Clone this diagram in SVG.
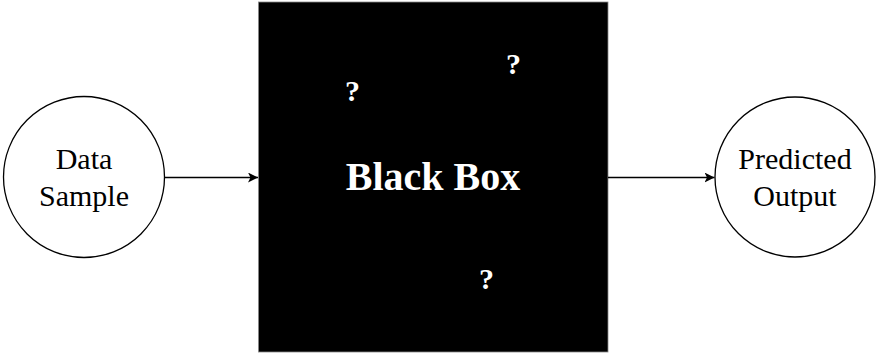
<svg xmlns="http://www.w3.org/2000/svg" width="878" height="354" viewBox="0 0 878 354">
<defs>
<marker id="arr" viewBox="0 0 10 10" refX="10" refY="5" markerWidth="10" markerHeight="10" markerUnits="userSpaceOnUse" orient="auto">
<path d="M0,0 L10,5 L0,10 L2.5,5 Z" fill="#000"/>
</marker>
</defs>
<rect width="878" height="354" fill="#fff"/>
<g id="data-sample">
<circle cx="84" cy="177" r="80.5" fill="#fff" stroke="#000" stroke-width="1.3"/>
<text x="84" y="169" font-family="Times New Roman, Liberation Serif, serif" font-size="30" fill="#000" text-anchor="middle">Data</text>
<text x="84" y="206" font-family="Times New Roman, Liberation Serif, serif" font-size="30" fill="#000" text-anchor="middle">Sample</text>
</g>
<g id="black-box">
<rect x="258.5" y="2" width="349.5" height="350" fill="#000" stroke="#888" stroke-width="0.8"/>
<text x="433" y="190" font-family="Times New Roman, Liberation Serif, serif" font-weight="bold" font-size="40" fill="#fff" text-anchor="middle">Black Box</text>
<text x="352.5" y="100.5" font-family="Times New Roman, Liberation Serif, serif" font-weight="bold" font-size="30" fill="#fff" text-anchor="middle">?</text>
<text x="513.5" y="73.5" font-family="Times New Roman, Liberation Serif, serif" font-weight="bold" font-size="30" fill="#fff" text-anchor="middle">?</text>
<text x="486.5" y="289" font-family="Times New Roman, Liberation Serif, serif" font-weight="bold" font-size="30" fill="#fff" text-anchor="middle">?</text>
</g>
<g id="predicted-output">
<circle cx="795" cy="177" r="80" fill="#fff" stroke="#000" stroke-width="1.3"/>
<text x="795" y="169" font-family="Times New Roman, Liberation Serif, serif" font-size="30" fill="#000" text-anchor="middle">Predicted</text>
<text x="795" y="206" font-family="Times New Roman, Liberation Serif, serif" font-size="30" fill="#000" text-anchor="middle">Output</text>
</g>
<g id="connectors" stroke="#000" stroke-width="1.3" fill="none">
<line x1="164.5" y1="177.5" x2="258" y2="177.5" marker-end="url(#arr)"/>
<line x1="608" y1="177.5" x2="714.5" y2="177.5" marker-end="url(#arr)"/>
</g>
</svg>
